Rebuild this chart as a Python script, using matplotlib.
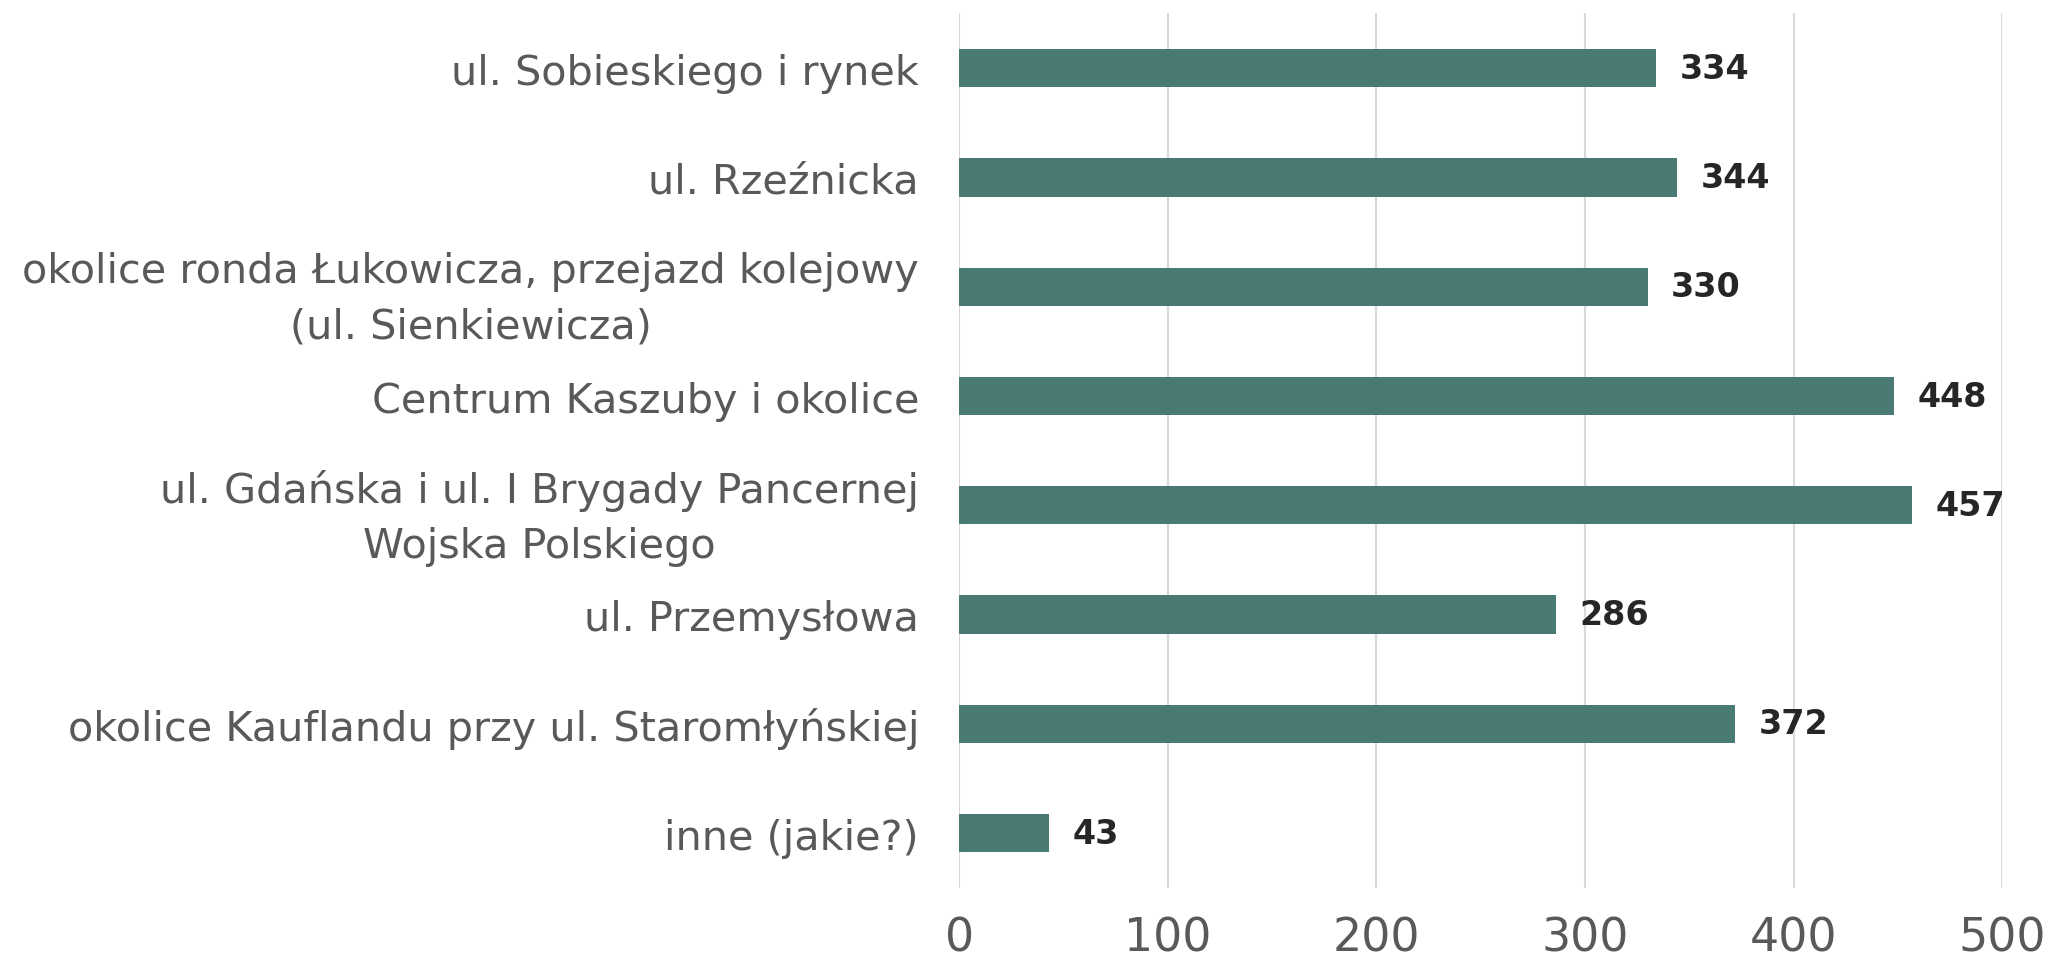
import matplotlib
matplotlib.use("Agg")
import matplotlib.pyplot as plt

categories = [
    "ul. Sobieskiego i rynek",
    "ul. Rzeźnicka",
    "okolice ronda Łukowicza, przejazd kolejowy\n(ul. Sienkiewicza)",
    "Centrum Kaszuby i okolice",
    "ul. Gdańska i ul. I Brygady Pancernej\nWojska Polskiego",
    "ul. Przemysłowa",
    "okolice Kauflandu przy ul. Staromłyńskiej",
    "inne (jakie?)",
]
values = [334, 344, 330, 448, 457, 286, 372, 43]
xticks = [0, 100, 200, 300, 400, 500]

plt.rcParams['font.family'] = ['DejaVu Sans']
fig = plt.figure(figsize=(20.5, 9.62), dpi=100)
ax = fig.add_axes([0.468, 0.076, 0.5086, 0.909])

pos = list(range(len(categories)))
ax.barh(pos, values, height=0.35, color="#4a7a74", zorder=3)
for p, v in zip(pos, values):
    ax.annotate(str(v), xy=(v, p), xytext=(17, 0), textcoords="offset points",
                va="center", ha="left", fontsize=24, fontweight="bold", color="#262626")

ax.set_xlim(0, 500)
ax.set_ylim(len(categories) - 0.5, -0.5)
ax.set_xticks(xticks)
ax.set_yticks(pos)
ax.set_yticklabels(categories, fontsize=29.8, color="#595959", linespacing=1.5,
                   multialignment="center")
ax.tick_params(axis="x", length=0, pad=20, labelsize=33, labelcolor="#595959")
ax.tick_params(axis="y", length=0, pad=29)
ax.grid(axis="x", color="#d9d9d9", linewidth=1.5, zorder=0)
for s in ax.spines.values():
    s.set_visible(False)

fig.savefig("out.png", dpi=100)
